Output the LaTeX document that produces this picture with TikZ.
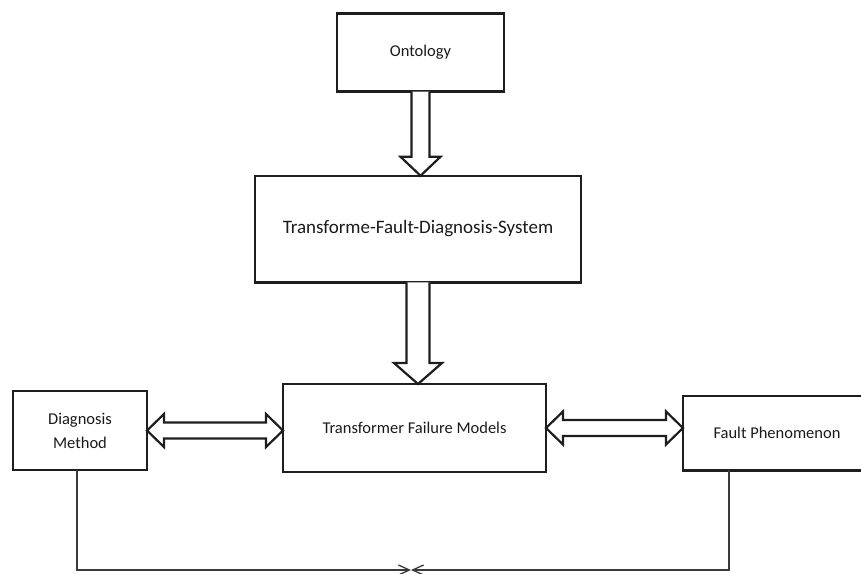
\documentclass[tikz,border=0pt]{standalone}
\usepackage{fontspec}
\setmainfont{Carlito}
\usetikzlibrary{calc,arrows.meta}
\definecolor{ink}{HTML}{1E1E1E}
\definecolor{txt}{HTML}{1A1A1A}
\definecolor{wire}{HTML}{3A3A3A}

% hollow downward block arrow: #1 from, #2 to, #3 shaft half-width, #4 head half-width, #5 head length
\newcommand\hollowdown[5]{%
  \draw[hollow] let \p1=#1, \p2=#2 in
    (\x1-#3pt,\y1) -- (\x1-#3pt,\y2+#5pt) -- (\x1-#4pt,\y2+#5pt) -- (\x1,\y2)
    -- (\x1+#4pt,\y2+#5pt) -- (\x1+#3pt,\y2+#5pt) -- (\x1+#3pt,\y1);%
}
% hollow two-headed horizontal block arrow between two points
\newcommand\hollowboth[5]{%
  \draw[hollow] let \p1=#1, \p2=#2 in
    (\x1,\y1) -- (\x1+#5pt,\y1+#4pt) -- (\x1+#5pt,\y1+#3pt) -- (\x2-#5pt,\y1+#3pt)
    -- (\x2-#5pt,\y1+#4pt) -- (\x2,\y1) -- (\x2-#5pt,\y1-#4pt) -- (\x2-#5pt,\y1-#3pt)
    -- (\x1+#5pt,\y1-#3pt) -- (\x1+#5pt,\y1-#4pt) -- cycle;%
}

\begin{document}
\begin{tikzpicture}[x=1pt,y=-1pt,
  box/.style={draw=ink, line width=2.5pt, inner sep=0pt, outer sep=0pt,
    align=center, text=txt, font=\fontsize{16.5}{24}\selectfont},
  bigtext/.style={font=\fontsize{19}{26}\selectfont},
  hollow/.style={draw=ink, line width=2.2pt, fill=white, line join=miter},
  link/.style={draw=wire, line width=1.3pt},
  meettip/.style={-{Straight Barb[length=11pt,width=10pt]}}]

\useasboundingbox (0,0) rectangle (861,573);
\clip (0,0) rectangle (861,573);

% boxes
\node[box, minimum width=167pt, minimum height=78pt] (onto) at (420.5,52.5) {Ontology};
\node[box, bigtext, minimum width=326pt, minimum height=106.5pt] (tfds) at (418,229) {Transforme-Fault-Diagnosis-System};
\node[box, minimum width=263pt, minimum height=88pt] (tfm) at (414.5,428) {Transformer Failure Models};
\node[box, minimum width=134pt, minimum height=79pt] (dm) at (80,430.5) {Diagnosis\\Method};
\node[box, minimum width=188pt, minimum height=74.5pt] (fp) at (777,433) {Fault Phenomenon};

% block arrows
\hollowdown{(onto.south)}{(tfds.north)}{9}{20}{19}
\hollowdown{(tfds.south)}{(tfm.north)}{11.5}{24}{21}
\hollowboth{(dm.east)}{(tfm.west)}{8}{16.5}{17}
\hollowboth{(tfm.east)}{(fp.west)}{8}{16.5}{17}

% feedback lines meeting underneath
\coordinate (meet) at (411,570);
\draw[link,meettip] ($(dm.south)+(-3,0)$) |- (meet);
\draw[link,meettip] ($(fp.south west)+(46,0)$) |- (meet);

\end{tikzpicture}
\end{document}
